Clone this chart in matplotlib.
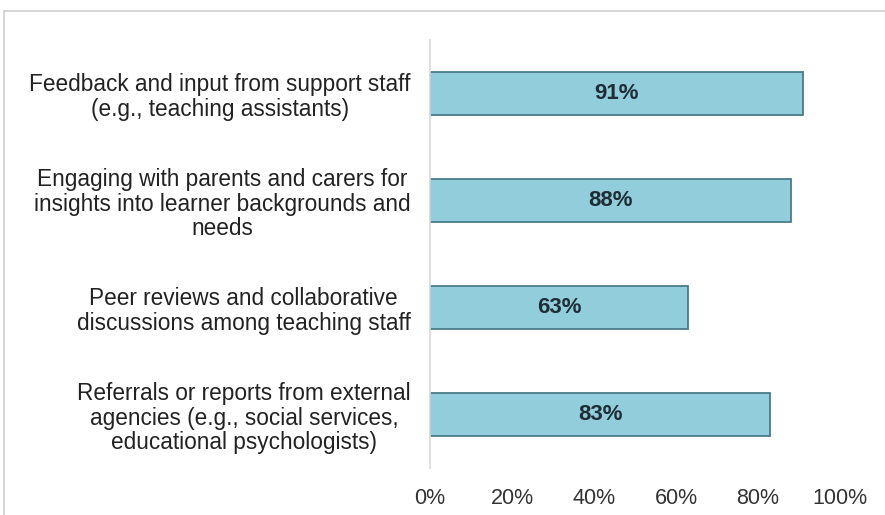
import matplotlib
matplotlib.use("Agg")
import matplotlib.pyplot as plt
from matplotlib.lines import Line2D

categories = [
    "Feedback and input from support staff\n(e.g., teaching assistants)",
    "Engaging with parents and carers for\ninsights into learner backgrounds and\nneeds",
    "Peer reviews and collaborative\ndiscussions among teaching staff",
    "Referrals or reports from external\nagencies (e.g., social services,\neducational psychologists)",
]
values = [91, 88, 63, 83]
xticks = [0, 20, 40, 60, 80, 100]
xticklabels = ["0%", "20%", "40%", "60%", "80%", "100%"]

plt.rcParams['font.family'] = ['Liberation Sans', 'DejaVu Sans']

fig = plt.figure(figsize=(8.85, 5.15), dpi=100)
ax = fig.add_axes([0.486, 0.091, 0.463, 0.831])

ypos = list(range(len(categories)))
ax.barh(ypos, values, height=0.4, color="#92CDDC", edgecolor="#4B7B8A", linewidth=1.3)
for y, v in zip(ypos, values):
    ax.text(v / 2, y, f"{v}%", ha="center", va="center", fontsize=16,
            fontweight="bold", color="#1f2d36")

ax.set_ylim(3.5, -0.5)
ax.set_xlim(0, 100)
ax.set_yticks(ypos)
ax.set_yticklabels(categories, fontsize=16.3, color="#222222",
                   multialignment="center", linespacing=1.1)
ax.set_xticks(xticks)
ax.set_xticklabels(xticklabels, fontsize=15.5, color="#333333")
ax.tick_params(axis="both", length=0)
ax.tick_params(axis="y", pad=14)
ax.tick_params(axis="x", pad=14)
for s in ["top", "right", "bottom"]:
    ax.spines[s].set_visible(False)
ax.spines["left"].set_color("#d9d9d9")
ax.spines["left"].set_linewidth(1.2)

# outer frame (top and left edges visible)
fig.add_artist(Line2D([4/885, 1.0], [1 - 11/515, 1 - 11/515], transform=fig.transFigure,
                      color="#d0d0d0", linewidth=1.2))
fig.add_artist(Line2D([4/885, 4/885], [0.0, 1 - 11/515], transform=fig.transFigure,
                      color="#d0d0d0", linewidth=1.2))

fig.savefig("out.png", dpi=100, facecolor="white")
